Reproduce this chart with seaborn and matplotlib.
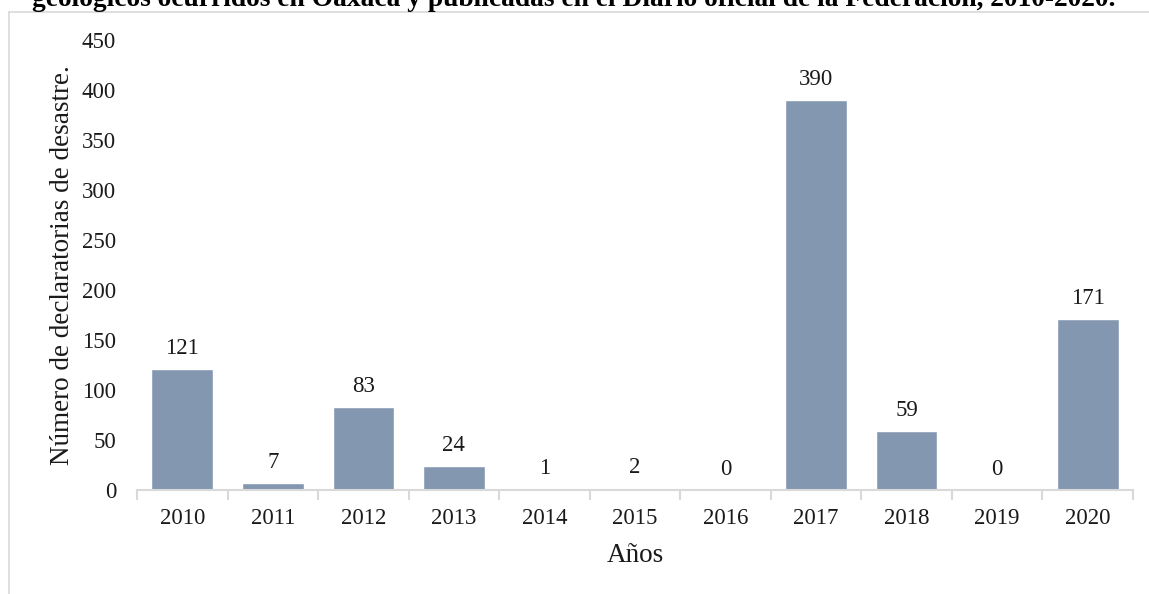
import matplotlib.pyplot as plt
import numpy as np
import pandas as pd
import seaborn as sns
from matplotlib.lines import Line2D

years = ["2010", "2011", "2012", "2013", "2014", "2015", "2016", "2017", "2018", "2019", "2020"]
declaratorias = [121, 7, 83, 24, 1, 2, 0, 390, 59, 0, 171]
title = ("geológicos ocurridos en Oaxaca y publicadas en el Diario oficial "
         "de la Federación, 2010-2020.")

sns.set_theme(style="white")
plt.rcParams["font.family"] = ["Liberation Serif", "DejaVu Serif"]

df = pd.DataFrame({"anio": years, "n": declaratorias})

fig = plt.figure(figsize=(11.49, 5.94), dpi=100)
ax = fig.add_axes([137 / 1149, 1 - 490 / 594, (1133 - 137) / 1149, 450 / 594])

sns.barplot(data=df, x="anio", y="n", color="#8497B0", width=0.68,
            saturation=1, ax=ax)

for i, v in enumerate(declaratorias):
    ax.annotate(str(v), (i, v), xytext=(0, 7), textcoords="offset points",
                ha="center", va="bottom", fontsize=16.5, color="#1a1a1a")

ax.set_xlim(-0.5, len(years) - 0.5)
ax.set_ylim(0, 450)
ax.set_yticks(np.arange(0, 451, 50))
ax.tick_params(axis="y", length=0, pad=15, labelsize=16.5, labelcolor="#1a1a1a")
ax.tick_params(axis="x", which="major", length=0, pad=13, labelsize=16.5,
               labelcolor="#1a1a1a")
ax.set_xticks(np.arange(-0.5, len(years), 1), minor=True)
ax.tick_params(axis="x", which="minor", length=7, width=1.5, color="#d9d9d9",
               bottom=True)

for s in ["top", "right", "left"]:
    ax.spines[s].set_visible(False)
ax.spines["bottom"].set_color("#d9d9d9")
ax.spines["bottom"].set_linewidth(1.5)

ax.set_xlabel("Años", fontsize=19.5, color="#1a1a1a", labelpad=10)
ax.set_ylabel("Número de declaratorias de desastre.", fontsize=19.5,
              color="#1a1a1a", labelpad=5)

# outer chart frame (top and left edges visible)
fig.add_artist(Line2D([9 / 1149, 1.0], [1 - 12 / 594, 1 - 12 / 594],
                      color="#d9d9d9", lw=1.2, transform=fig.transFigure))
fig.add_artist(Line2D([9 / 1149, 9 / 1149], [0, 1 - 12 / 594],
                      color="#d9d9d9", lw=1.2, transform=fig.transFigure))

fig.text(574 / 1149, 1 - 6.5 / 594, title, ha="center", va="baseline",
         fontsize=19.8, fontweight="bold", color="black")

fig.savefig("out.png", dpi=100)
